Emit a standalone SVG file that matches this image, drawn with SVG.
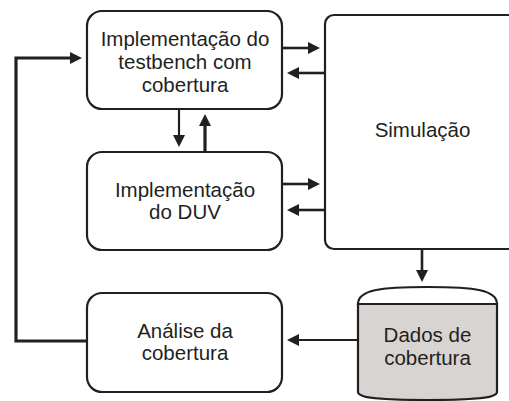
<svg xmlns="http://www.w3.org/2000/svg" width="509" height="401" viewBox="0 0 509 401">
<style>
.box{fill:#fff;stroke:#231f20;stroke-width:2.2}
.t{font-family:"Liberation Sans",Arial,sans-serif;font-size:20.5px;fill:#231f20;text-anchor:middle}
.c{fill:none;stroke:#231f20;stroke-width:2.6}
.thick{stroke-width:3.2}
.thin{stroke-width:2.2}
</style>
<defs>
<marker id="ah" markerUnits="userSpaceOnUse" markerWidth="13" markerHeight="13" refX="5" refY="6" orient="auto">
<path d="M0,0 L12,6 L0,12 z" fill="#231f20"/>
</marker>
</defs>
<rect width="509" height="401" fill="#fff"/>
<g id="connectors">
<path class="c thick" d="M87,341 H16 V58 H75" marker-end="url(#ah)"/>
<path class="c thin" d="M179,109 V140" marker-end="url(#ah)"/>
<path class="c thick" d="M205,152 V121" marker-end="url(#ah)"/>
<path class="c" d="M282,48 H313" marker-end="url(#ah)"/>
<path class="c" d="M325,73 H294" marker-end="url(#ah)"/>
<path class="c" d="M282,184 H313" marker-end="url(#ah)"/>
<path class="c" d="M325,210 H294" marker-end="url(#ah)"/>
<path class="c" d="M422,249 V275" marker-end="url(#ah)"/>
<path class="c thin" d="M358,340 H294" marker-end="url(#ah)"/>
</g>
<g id="testbench">
<rect class="box" x="87" y="11" width="195" height="98" rx="15"/>
<text class="t" x="185" y="46">Implementação do</text>
<text class="t" x="185" y="69">testbench com</text>
<text class="t" x="185" y="92">cobertura</text>
</g>
<g id="duv">
<rect class="box" x="87" y="152" width="195" height="98" rx="15"/>
<text class="t" x="185" y="197">Implementação</text>
<text class="t" x="185" y="219">do DUV</text>
</g>
<g id="simulacao">
<rect class="box" x="325" y="15" width="300" height="234" rx="9"/>
<text class="t" x="422.5" y="137">Simulação</text>
</g>
<g id="analise">
<rect class="box" x="87" y="293" width="195" height="99" rx="15"/>
<text class="t" x="185" y="338">Análise da</text>
<text class="t" x="185" y="360">cobertura</text>
</g>
<g id="dados">
<path d="M358,304 H497 V392 C497,398 475,400 427.5,400 C380,400 358,398 358,392 Z" fill="#d7d4d2" stroke="#231f20" stroke-width="2.2"/>
<path d="M358,304 C358,290 380,287 427.5,287 C475,287 497,290 497,304 Z" fill="#fff" stroke="#231f20" stroke-width="2.2"/>
<text class="t" x="427.5" y="342">Dados de</text>
<text class="t" x="427.5" y="365">cobertura</text>
</g>
</svg>
